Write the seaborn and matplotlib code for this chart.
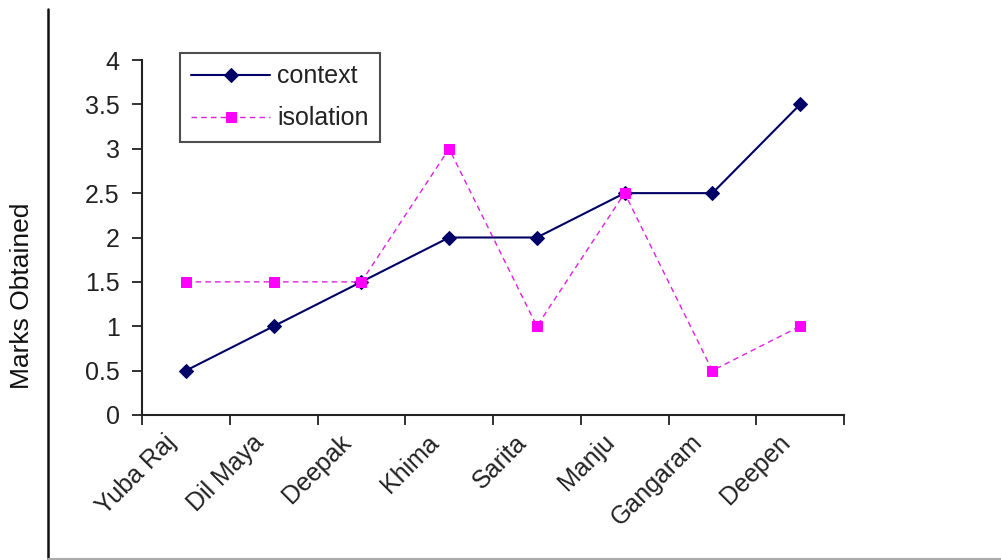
import numpy as np
import pandas as pd
import matplotlib
matplotlib.use("Agg")
import matplotlib.pyplot as plt
import matplotlib.transforms as mtransforms
from matplotlib.lines import Line2D
import seaborn as sns

students = ["Yuba Raj", "Dil Maya", "Deepak", "Khima", "Sarita",
            "Manju", "Gangaram", "Deepen"]
context = [0.5, 1.0, 1.5, 2.0, 2.0, 2.5, 2.5, 3.5]
isolation = [1.5, 1.5, 1.5, 3.0, 1.0, 2.5, 0.5, 1.0]
y_ticks = [0, 0.5, 1, 1.5, 2, 2.5, 3, 3.5, 4]
y_tick_labels = ["0", "0.5", "1", "1.5", "2", "2.5", "3", "3.5", "4"]

sns.set_theme(style="white")
plt.rcParams["font.family"] = ["Liberation Sans", "DejaVu Sans"]

W, H = 1001, 560
fig = plt.figure(figsize=(W / 100, H / 100), dpi=100)
fig.patch.set_facecolor("white")
ax = fig.add_axes([142 / W, 1 - 415 / H, (844 - 142) / W, (415 - 60) / H])
ax.set_facecolor("white")

df = pd.DataFrame({"pos": np.arange(len(students)),
                   "context": context, "isolation": isolation})

sns.lineplot(data=df, x="pos", y="context", ax=ax, color="#000066",
             linewidth=1.5, marker="D", markersize=7,
             markeredgecolor="#000066", label="context")
sns.lineplot(data=df, x="pos", y="isolation", ax=ax, color="#E020E0",
             linewidth=1.0, linestyle=(0, (4, 3)), marker="s", markersize=7.5,
             markerfacecolor="#FF00FF", markeredgecolor="#FF00FF",
             label="isolation")

ax.set_xlim(-0.5, len(students) - 0.5)
ax.set_ylim(0, 4)
for side in ["top", "right"]:
    ax.spines[side].set_visible(False)
for side in ["left", "bottom"]:
    ax.spines[side].set_color("#222222")
    ax.spines[side].set_linewidth(1.5)

ax.set_yticks(y_ticks)
ax.set_yticklabels(y_tick_labels)
ax.tick_params(axis="y", direction="out", length=7, width=1.3,
               color="#222222", pad=9, labelsize=18, labelcolor="#222222",
               left=True)

# Category boundaries carry the tick marks; labels sit at category centres
ax.set_xticks(np.arange(-0.5, len(students)), minor=False)
ax.set_xticklabels([])
ax.tick_params(axis="x", which="major", direction="out", length=7,
               width=1.3, color="#222222", bottom=True)
ax.set_xticks(np.arange(len(students)), minor=True)
ax.set_xticklabels(students, minor=True, rotation=45, ha="right",
                   va="center", rotation_mode="anchor")
ax.tick_params(axis="x", which="minor", length=0, pad=17, labelsize=18,
               labelcolor="#222222")
shift = mtransforms.ScaledTranslation(-14 / 100, 0, fig.dpi_scale_trans)
for lbl in ax.get_xticklabels(minor=True):
    lbl.set_transform(lbl.get_transform() + shift)

ax.set_xlabel("")
ax.set_ylabel("")
fig.text(22 / W, 1 - 296 / H, "Marks Obtained", rotation=90, ha="center",
         va="center", fontsize=19, color="#111111")

leg = ax.legend(loc="upper left", bbox_to_anchor=(180 / W, 1 - 53 / H),
                bbox_transform=fig.transFigure, borderaxespad=0,
                fontsize=18, frameon=True, fancybox=False, handlelength=3.15,
                handletextpad=0.3, borderpad=0.45, labelspacing=0.72)
leg.get_frame().set_edgecolor("#222222")
leg.get_frame().set_linewidth(1.5)
for t in leg.get_texts():
    t.set_color("#222222")

# Outer chart-area border (left and bottom edges)
fig.add_artist(Line2D([48 / W, 48 / W], [1 - 9 / H, 0], color="#111111",
                      linewidth=1.8, transform=fig.transFigure))
fig.add_artist(Line2D([48 / W, 1], [1 - 559 / H, 1 - 559 / H],
                      color="#aaaaaa", linewidth=1.5,
                      transform=fig.transFigure))

fig.savefig("out.png", dpi=100)
